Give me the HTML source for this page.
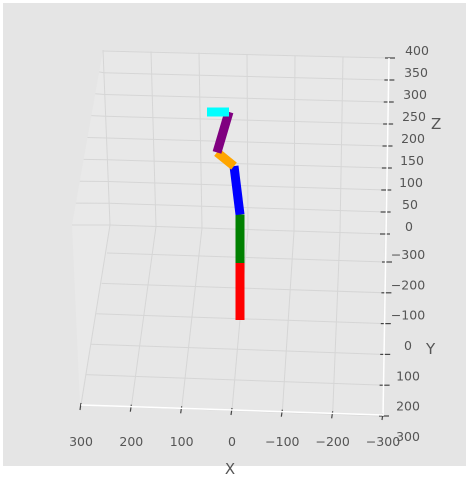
<!DOCTYPE html>
<html><head><meta charset="utf-8"><style>
html,body{margin:0;padding:0;background:#fff}
svg{display:block;font-family:"DejaVu Sans","Liberation Sans",sans-serif}
</style></head><body>
<svg id="chart" width="469" height="482" viewBox="0 0 469 482">
<rect x="3" y="3" width="463" height="463" fill="#e5e5e5"/>
<g id="panes">
<polygon points="103,50 389,58 384,234 110,225" fill="#e8e8e8"/>
<polygon points="110,225 384,234 383,415 80,405" fill="#e7e7e7"/>
<polygon points="103,50 110,225 80,405 72,225" fill="#e9e9e9"/>
</g>
<g id="grid" stroke="#d6d6d6" stroke-width="1" fill="none"></g>
<g id="axes"></g>
<g id="marks"></g>
<text x="230" y="474" font-size="15" fill="#555" text-anchor="middle">X</text>
<text x="426" y="354" font-size="15" fill="#555">Y</text>
<text x="431" y="129" font-size="15" fill="#555">Z</text>
</svg>
<script>
const xTicks=[300,200,100,0,-100,-200,-300];
const yTicks=[-300,-200,-100,0,100,200,300];
const zTicks=[0,50,100,150,200,250,300,350,400];
const segColors=['red','green','blue','orange','purple','cyan'];
const jointX=[0,0,0,12,46,22,66];
const jointZ=[0,100,185,270,294,365,365];
const NS='http://www.w3.org/2000/svg';
function mk(tag,attrs,parent){const e=document.createElementNS(NS,tag);for(const k in attrs)e.setAttribute(k,attrs[k]);parent.appendChild(e);return e;}
function sx(x){return 240-x*0.5;}
function sz(z){return 320-z*0.57;}
function lerp(a,b,t){return a+(b-a)*t;}
const grid=document.getElementById('grid'),axes=document.getElementById('axes'),marks=document.getElementById('marks');
zTicks.forEach((z,i)=>{const t=i/(zTicks.length-1);
 const yl=lerp(225,51,t),yr=lerp(234,58,t),xl=lerp(110,103,t),xr=lerp(384,389,t);
 const l=mk('line',{x1:xl,y1:yl,x2:xr,y2:yr},grid);
 
 
 const s=mk('line',{x1:xl,y1:yl,x2:lerp(72,103,t),y2:lerp(225,50,t)},grid);
 
 
 const tk=mk('line',{x1:xr-4,y1:yr,x2:xr+6,y2:yr,stroke:'#444','stroke-width':1.2},axes);
 
 
 const tx=mk('text',{x:lerp(409,417,t),y:yr-3,'font-size':12.5,fill:'#555','text-anchor':'middle'},axes);
 tx.textContent=z;
 
 
});
xTicks.forEach((x,i)=>{const t=i/(xTicks.length-1);
 const xb=lerp(110,386,t),yb=lerp(225,234,t),xtop=lerp(103,391,t),ytop=lerp(50,58,t),xf=lerp(81,383,t),yf=lerp(405,415,t);
 if(i<xTicks.length-1){const l=mk('line',{x1:xtop,y1:ytop,x2:xb,y2:yb},grid);
 
 }
 const f=mk('line',{x1:xb,y1:yb,x2:xf,y2:yf},grid);
 
 
 const tk=mk('line',{x1:xf,y1:yf-2,x2:xf-1,y2:yf+5,stroke:'#444','stroke-width':1.2},axes);
 
 
 const tx=mk('text',{x:xf,y:446,'font-size':12.5,fill:'#555','text-anchor':'middle'},axes);
 tx.textContent=String(x).replace('-','\u2212');
 
 
});
yTicks.forEach((y,i)=>{const t=i/(yTicks.length-1);
 if(i<yTicks.length-1){
  const u=i/(yTicks.length-2);
  const yr=lerp(262,416,u), yl=lerp(253,405,u), xl=lerp(107,80,u), xr=lerp(386,383,u);
  const l=mk('line',{x1:xl,y1:yl,x2:xr,y2:yr},grid);
  
  
  const tk=mk('line',{x1:xr-4,y1:yr,x2:xr+6,y2:yr,stroke:'#444','stroke-width':1.2},axes);
  
  
 }
 const tx=mk('text',{x:408,y:lerp(259,441,t),'font-size':12.5,fill:'#555','text-anchor':'middle'},axes);
 tx.textContent=String(y).replace('-','\u2212');
 
 
});
[[81,405,383,415],[389,58,383,416]].forEach(a=>{const l=mk('line',{x1:a[0],y1:a[1],x2:a[2],y2:a[3],stroke:'#fff','stroke-width':1.5},axes);
 
 });
segColors.forEach((c,i)=>{const l=mk('line',{x1:sx(jointX[i]),y1:sz(jointZ[i]),x2:sx(jointX[i+1]),y2:sz(jointZ[i+1]),stroke:c,'stroke-width':9},marks);
 
 });
</script>
</body></html>
